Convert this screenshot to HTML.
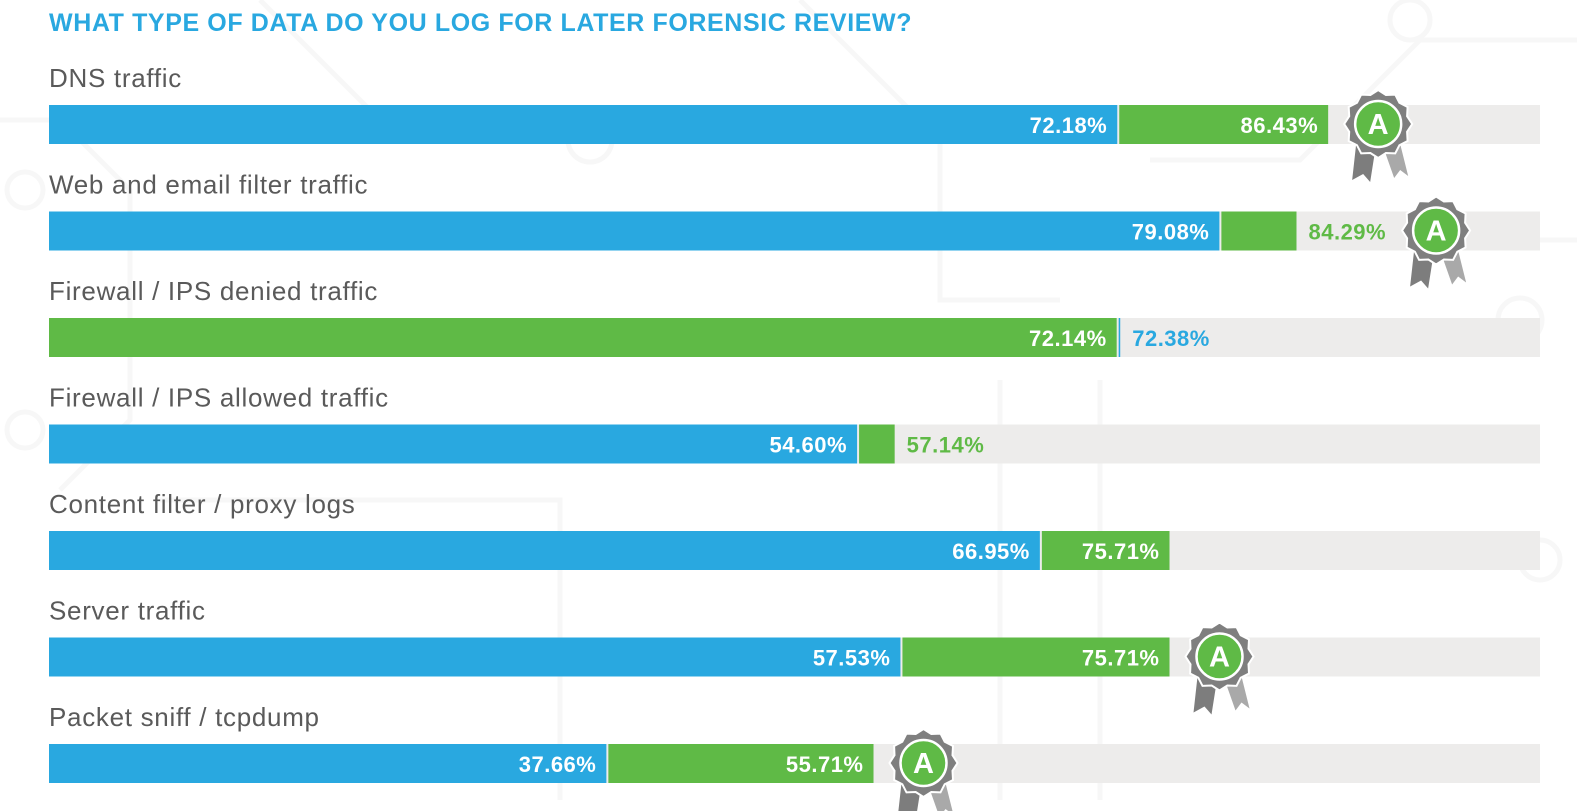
<!DOCTYPE html>
<html><head><meta charset="utf-8">
<style>
html,body{margin:0;padding:0;background:#fff;}
body{width:1577px;height:811px;overflow:hidden;font-family:"Liberation Sans",sans-serif;}
svg{display:block;}
</style></head>
<body>
<svg id="chart" width="1577" height="811" viewBox="0 0 1577 811" xmlns="http://www.w3.org/2000/svg">
  <g id="bg" fill="none" stroke="#f7f7f7" stroke-width="5">
    <path d="M0 120 L60 120 L130 190 L130 420 L60 490"/>
    <circle cx="25" cy="190" r="18"/><circle cx="25" cy="430" r="18"/>
    <path d="M260 0 L400 140 L560 140"/><circle cx="590" cy="140" r="22"/>
    <path d="M800 0 L940 140 L940 300 L1060 300"/>
    <path d="M1150 160 L1300 160 L1420 40 L1577 40"/><circle cx="1410" cy="20" r="20"/>
    <path d="M1000 380 L1000 800 M1100 380 L1100 800"/>
    <path d="M160 500 L560 500 L560 800"/>
    <circle cx="1520" cy="320" r="22"/><circle cx="1540" cy="560" r="20"/>
    <path d="M1250 240 L1577 240"/>
  </g>
  <text x="49" y="31" font-size="25" font-weight="bold" fill="#29a8e0" letter-spacing="0.6">WHAT TYPE OF DATA DO YOU LOG FOR LATER FORENSIC REVIEW?</text>
  <g id="rows"></g>
</svg>
<script>
const categories = ["DNS traffic","Web and email filter traffic","Firewall / IPS denied traffic","Firewall / IPS allowed traffic","Content filter / proxy logs","Server traffic","Packet sniff / tcpdump"];
const blueValues = [72.18,79.08,72.38,54.60,66.95,57.53,37.66];
const greenValues = [86.43,84.29,72.14,57.14,75.71,75.71,55.71];
const awards = [true,true,false,false,false,true,true];

const BLUE="#29a8e0", GREEN="#5fba46", TRACK="#edeceb";
const X0=49, X1=1540, PXPER=14.8;
const ROW0=105, ROWSTEP=106.5, BARH=39;
function xScale(v){return X0+v*PXPER;}
function rowY(i){return ROW0+i*ROWSTEP;}
const NS="http://www.w3.org/2000/svg";
const g=document.getElementById('rows');
function mk(tag,attrs,parent){const e=document.createElementNS(NS,tag);for(const k in attrs)e.setAttribute(k,attrs[k]);(parent||g).appendChild(e);return e;}

function badge(cx,cy,parent){
  const b=mk('g',{},parent);
  
  
  mk('polygon',{points:`${cx+4},${cy+20} ${cx+22},${cy+20} ${cx+30},${cy+52} ${cx+22},${cy+46} ${cx+16},${cy+54}`,fill:'#a9a9a9'},b);
  mk('polygon',{points:`${cx-22},${cy+20} ${cx-2},${cy+20} ${cx-8},${cy+58} ${cx-15},${cy+50} ${cx-26},${cy+56}`,fill:'#7d7d7d'},b);
  let pts=[];const n=24;
  for(let k=0;k<n;k++){const a=k*Math.PI*2/n;const r=k%2?30:34;pts.push((cx+r*Math.cos(a)).toFixed(1)+','+(cy+r*Math.sin(a)).toFixed(1));}
  mk('polygon',{points:pts.join(' '),fill:'#7f7f7f',stroke:'#fff','stroke-width':2},b);
  mk('circle',{cx,cy,r:23,fill:GREEN,stroke:'#fff','stroke-width':2.5},b);
  const t=mk('text',{x:cx,y:cy+10,'text-anchor':'middle','font-size':29,'font-weight':'bold',fill:'#fff'},b);
  t.textContent='A';
}

categories.forEach((cat,i)=>{
  const y=rowY(i);
  const row=mk('g',{});
  
  
  const lab=mk('text',{x:X0,y:y-18,'font-size':26,fill:'#5a5a5a','letter-spacing':0.7},row);
  
  
  lab.textContent=cat;
  const tr=mk('rect',{x:X0,y,width:X1-X0,height:BARH,fill:TRACK},row);
  
  
  const b=blueValues[i], gr=greenValues[i];
  const segs=[{v:b,c:BLUE,n:'blue'},{v:gr,c:GREEN,n:'green'}].sort((p,q)=>p.v-q.v);
  const inner=segs[0], outer=segs[1];
  const xi=xScale(inner.v), xo=xScale(outer.v);
  const r2=mk('rect',{x:xi+2,y,width:Math.max(xo-xi-2,0),height:BARH,fill:outer.c},row);
  
  
  const r1=mk('rect',{x:X0,y,width:xi-X0,height:BARH,fill:inner.c},row);
  
  
  const t1=mk('text',{x:xi-10,y:y+28,'text-anchor':'end','font-size':22,'font-weight':'bold',fill:'#fff','letter-spacing':0.5},row);
  
  
  t1.textContent=inner.v.toFixed(2)+'%';
  let endX;
  const t2=mk('text',{y:y+28,'font-size':22,'font-weight':'bold','letter-spacing':0.5},row);
  
  
  t2.textContent=outer.v.toFixed(2)+'%';
  if(xo-xi>100){t2.setAttribute('x',xo-10);t2.setAttribute('text-anchor','end');t2.setAttribute('fill','#fff');endX=xo;}
  else{t2.setAttribute('x',xo+12);t2.setAttribute('fill',outer.c);endX=xo+12+t2.getComputedTextLength();}
  if(awards[i]) badge(endX+50,y+19,row);
});
</script>
</body></html>
